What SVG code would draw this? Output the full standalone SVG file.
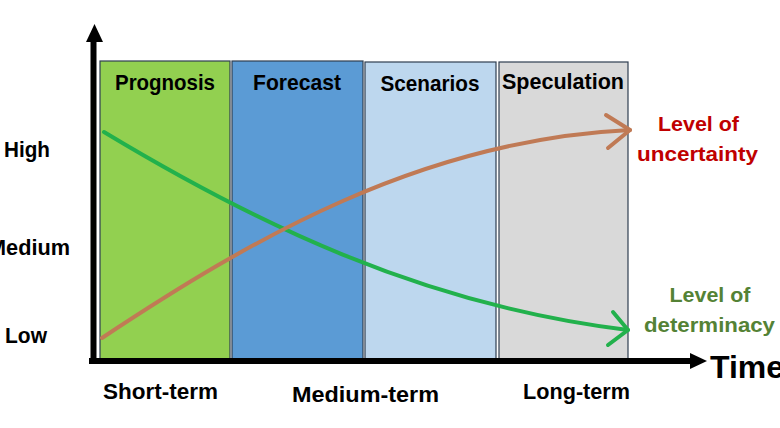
<svg xmlns="http://www.w3.org/2000/svg" width="780" height="428" viewBox="0 0 780 428">
<style>
.box{stroke:#2F3E50;stroke-width:1.2}
.t{font-family:"Liberation Sans",Arial,sans-serif;font-weight:bold;font-size:22px;fill:#000;text-anchor:middle}
.lab{font-family:"Liberation Sans",Arial,sans-serif;font-weight:bold;font-size:21px;text-anchor:middle}
.curve{fill:none;stroke-width:4;stroke-linecap:round;stroke-linejoin:round}
.ax{stroke:#000;stroke-width:6;fill:none}
</style>
<rect width="780" height="428" fill="#fff"/>
<g id="prognosis"><rect class="box" x="100" y="61" width="130" height="298" fill="#92D050"/><text class="t" x="165" y="90" textLength="100" lengthAdjust="spacingAndGlyphs">Prognosis</text></g>
<g id="forecast"><rect class="box" x="232" y="61" width="131" height="298" fill="#5B9BD5"/><text class="t" x="297" y="90" textLength="88" lengthAdjust="spacingAndGlyphs">Forecast</text></g>
<g id="scenarios"><rect class="box" x="365" y="62" width="131" height="297" fill="#BDD7EE"/><text class="t" x="430" y="91" textLength="99" lengthAdjust="spacingAndGlyphs">Scenarios</text></g>
<g id="speculation"><rect class="box" x="499" y="62" width="129" height="297" fill="#D9D9D9"/><text class="t" x="563" y="89" textLength="122" lengthAdjust="spacingAndGlyphs">Speculation</text></g>
<g id="axes">
<line class="ax" x1="93.5" y1="363" x2="93.5" y2="40"/>
<polygon points="94.5,24 86,42 103,42" fill="#000"/>
<line class="ax" x1="89" y1="361" x2="692" y2="361"/>
<polygon points="707,361 690,353 690,369" fill="#000"/>
</g>
<g id="connectors">
<path class="curve" stroke="#22B14C" d="M104,132 C250,220 420,305 628,330"/>
<polyline class="curve" stroke="#22B14C" points="613,312 628,330 608,345"/>
<path class="curve" stroke="#C07A55" d="M102,338 C250,240 420,140 630,130"/>
<polyline class="curve" stroke="#C07A55" points="606,115 630,130 608,148"/>
</g>
<g id="labels">
<text class="t" x="27" y="157" textLength="46" lengthAdjust="spacingAndGlyphs">High</text>
<text class="t" x="70" y="255" style="text-anchor:end" textLength="82" lengthAdjust="spacingAndGlyphs">Medium</text>
<text class="t" x="26" y="343" textLength="42" lengthAdjust="spacingAndGlyphs">Low</text>
<text class="t" x="160.5" y="399" textLength="115" lengthAdjust="spacingAndGlyphs">Short-term</text>
<text class="t" x="365.5" y="402" textLength="147" lengthAdjust="spacingAndGlyphs">Medium-term</text>
<text class="t" x="576.5" y="399" textLength="107" lengthAdjust="spacingAndGlyphs">Long-term</text>
<text x="710" y="378" style="font-family:'Liberation Sans',Arial,sans-serif;font-weight:bold;font-size:32px;fill:#000">Time</text>
</g>
<g id="uncertainty"><text class="lab" fill="#C00000" x="698.5" y="131" textLength="81" lengthAdjust="spacingAndGlyphs">Level of</text><text class="lab" fill="#C00000" x="697.5" y="161" textLength="121" lengthAdjust="spacingAndGlyphs">uncertainty</text></g>
<g id="determinacy"><text class="lab" fill="#548235" x="710" y="302" textLength="81" lengthAdjust="spacingAndGlyphs">Level of</text><text class="lab" fill="#548235" x="709.5" y="332" textLength="131" lengthAdjust="spacingAndGlyphs">determinacy</text></g>
</svg>
